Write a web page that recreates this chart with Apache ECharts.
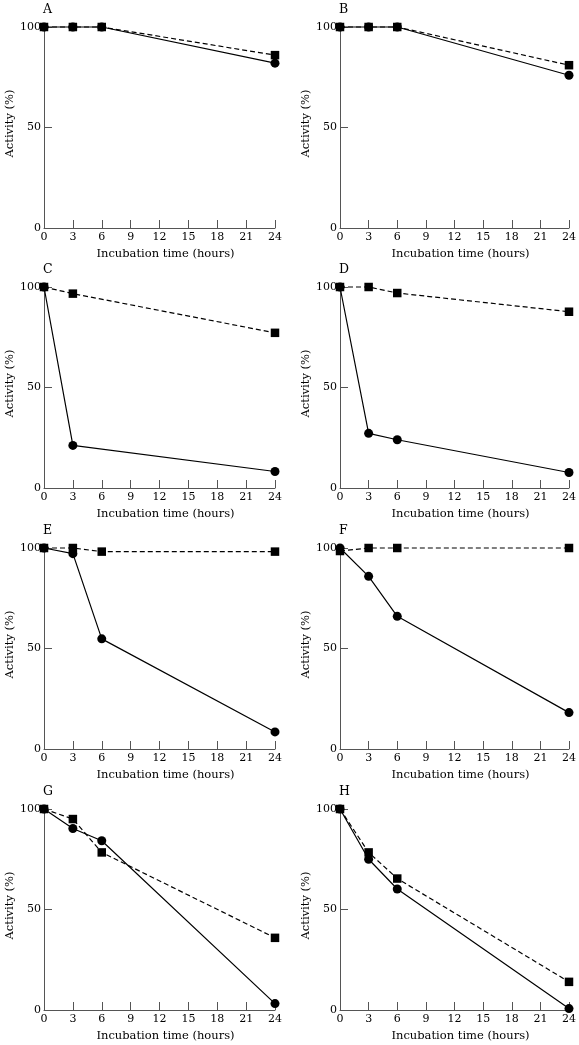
<!DOCTYPE html>
<html><head><meta charset="utf-8">
<script src="https://cdn.jsdelivr.net/npm/echarts@6/dist/echarts.min.js"></script>
<style>html,body{margin:0;padding:0;background:#fff}#c{width:579px;height:1045px}</style>
</head><body><div id="c"></div>
<script>
const panelLabels = ['A','B','C','D','E','F','G','H'];
const hours = [0, 3, 6, 24];
const xTicks = [0, 3, 6, 9, 12, 15, 18, 21, 24];
const yTicks = [0, 50, 100];
// solid line, circles
const circleA = [100, 100, 100, 82];
const circleB = [100, 100, 100, 76];
const circleC = [100, 21.2, null, 8.2];
const circleD = [100, 27.2, 24, 7.7];
const circleE = [100, 97.2, 54.8, 8.5];
const circleF = [100, 85.9, 66, 18.1];
const circleG = [100, 90.3, 84.2, 3.2];
const circleH = [100, 75, 60.2, 0.7];
// dashed line, squares
const squareA = [100, 100, 100, 86];
const squareB = [100, 100, 100, 81];
const squareC = [100, 96.7, null, 77.2];
const squareD = [100, 100, 97, 87.7];
const squareE = [100, 100, 98.2, 98.2];
const squareF = [98.5, 100, 100, 100];
const squareG = [100, 95, 78.4, 35.9];
const squareH = [100, 78.4, 65.4, 14];

const circles = [circleA, circleB, circleC, circleD, circleE, circleF, circleG, circleH];
const squares = [squareA, squareB, squareC, squareD, squareE, squareF, squareG, squareH];
const squaresOnTop = [true, false, true, false, true, false, false, false];

const FONT = 'DejaVu Serif';
const rowTops = [27, 287, 548, 809];
const colLefts = [44, 340];
const gridW = 231, gridH = 201;

function pairs(vals) {
  const out = [];
  vals.forEach((v, i) => { if (v !== null) out.push([hours[i], v]); });
  return out;
}

const grids = [], xAxes = [], yAxes = [], series = [], titles = [];
panelLabels.forEach((lab, i) => {
  const col = i % 2, row = Math.floor(i / 2);
  const left = colLefts[col], top = rowTops[row];
  grids.push({left: left, top: top, width: gridW, height: gridH});
  xAxes.push({
    type: 'value', gridIndex: i, min: xTicks[0], max: xTicks[xTicks.length - 1], interval: 3,
    name: 'Incubation time (hours)', nameLocation: 'middle', nameGap: 20,
    nameTextStyle: {fontFamily: FONT, fontSize: 11.5, color: '#000', padding: [0, 0, 0, 12]},
    axisLine: {show: true, lineStyle: {color: '#555', width: 1}},
    axisTick: {show: true, inside: true, length: 8, lineStyle: {color: '#555'}},
    axisLabel: {fontFamily: FONT, fontSize: 11, color: '#000', margin: 4},
    splitLine: {show: false}
  });
  yAxes.push({
    type: 'value', gridIndex: i, min: yTicks[0], max: yTicks[yTicks.length - 1], interval: 50,
    name: 'Activity (%)', nameLocation: 'middle', nameGap: col === 0 ? 28 : 26,
    nameTextStyle: {fontFamily: FONT, fontSize: 11.5, color: '#000', padding: [0, 0, 0, 8]},
    axisLine: {show: true, lineStyle: {color: '#555', width: 1}},
    axisTick: {show: true, inside: true, length: 8, lineStyle: {color: '#555'}},
    axisLabel: {fontFamily: FONT, fontSize: 11, color: '#000', margin: 3},
    splitLine: {show: false}
  });
  const sqTop = squaresOnTop[i];
  series.push({
    type: 'line', xAxisIndex: i, yAxisIndex: i, data: pairs(squares[i]),
    symbol: 'rect', symbolSize: 8.5, clip: false, z: sqTop ? 4 : 3,
    lineStyle: {color: '#000', width: 1.2, type: [5, 3]},
    itemStyle: {color: '#000', borderWidth: 0}, animation: false
  });
  series.push({
    type: 'line', xAxisIndex: i, yAxisIndex: i, data: pairs(circles[i]),
    symbol: 'circle', symbolSize: 9, clip: false, z: sqTop ? 3 : 4,
    lineStyle: {color: '#000', width: 1.2, type: 'solid'},
    itemStyle: {color: '#000', borderWidth: 0}, animation: false
  });
  titles.push({
    text: lab, left: left - 1, top: top - 24, padding: 0,
    textStyle: {fontFamily: FONT, fontSize: 12.5, fontWeight: 'normal', color: '#000'}
  });
});

const chart = echarts.init(document.getElementById('c'), null, {renderer: 'canvas'});
chart.setOption({
  animation: false,
  backgroundColor: '#fff',
  title: titles,
  grid: grids,
  xAxis: xAxes,
  yAxis: yAxes,
  series: series
});
</script></body></html>
